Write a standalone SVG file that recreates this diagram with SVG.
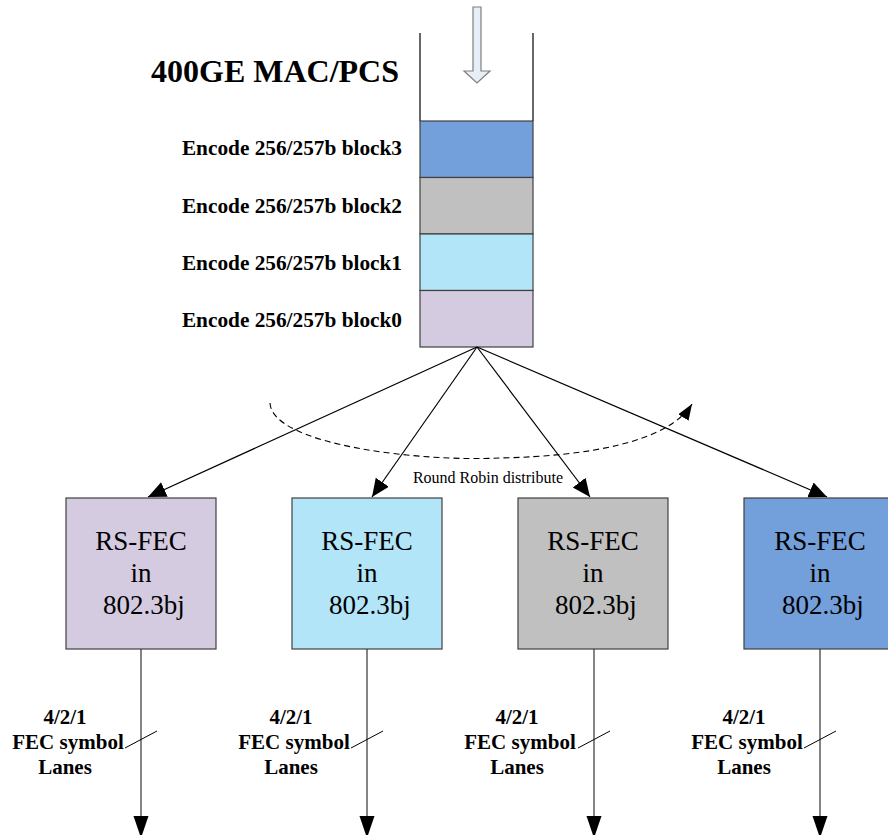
<svg xmlns="http://www.w3.org/2000/svg" width="888" height="835" viewBox="0 0 888 835">
<defs>
<style>
.blk{stroke:#404040;stroke-width:1.2}
.ln{stroke:#000;stroke-width:1.2;fill:none}
</style>
<marker id="ah" markerUnits="userSpaceOnUse" markerWidth="20" markerHeight="18" refX="18" refY="8" orient="auto" viewBox="0 0 20 16">
<path d="M0,0 L18,8 L0,16 Z" fill="#000"/>
</marker>
<marker id="ahd" markerUnits="userSpaceOnUse" markerWidth="22" markerHeight="16" refX="22" refY="7.5" orient="auto" viewBox="0 0 22 15">
<path d="M0,0 L22,7.5 L0,15 Z" fill="#000"/>
</marker>
<marker id="ahs" markerUnits="userSpaceOnUse" markerWidth="16" markerHeight="12" refX="16" refY="6" orient="auto" viewBox="0 0 16 12">
<path d="M0,0 L16,6 L0,12 Z" fill="#000"/>
</marker>
</defs>
<rect width="888" height="835" fill="#fff"/>

<g id="title" font-family="'Liberation Serif','Times New Roman',serif">
<text x="399" y="82" font-weight="bold" font-size="32" text-anchor="end">400GE MAC/PCS</text>
</g>

<g id="input-arrow">
<polygon points="473,7 481,7 481,71 490,71 477,83 464,71 473,71" fill="#e8eef8" stroke="#7f7f7f" stroke-width="1.2"/>
</g>

<g id="stack" font-family="'Liberation Serif','Times New Roman',serif" font-weight="bold" font-size="21.3" text-anchor="end">
<line x1="420" y1="33" x2="420" y2="121" stroke="#000" stroke-width="1.2"/>
<line x1="533" y1="33" x2="533" y2="121" stroke="#000" stroke-width="1.2"/>
<rect class="blk" x="420" y="121" width="113" height="56.5" fill="#739fda"/>
<rect class="blk" x="420" y="177.5" width="113" height="56.5" fill="#c0c0c0"/>
<rect class="blk" x="420" y="234" width="113" height="56.5" fill="#b3e5f8"/>
<rect class="blk" x="420" y="290.5" width="113" height="56.5" fill="#d4cbe0"/>
<text x="402" y="155">Encode 256/257b block3</text>
<text x="402" y="212.5">Encode 256/257b block2</text>
<text x="402" y="269.5">Encode 256/257b block1</text>
<text x="402" y="327">Encode 256/257b block0</text>
</g>

<g id="fec0" font-family="'Liberation Serif','Times New Roman',serif" font-size="27" text-anchor="middle">
<rect class="blk" x="66" y="498" width="150" height="151" fill="#d4cbe0"/>
<text x="141" y="550">RS-FEC</text>
<text x="141" y="582">in</text>
<text x="144" y="614">802.3bj</text>
</g>
<g id="fec1" font-family="'Liberation Serif','Times New Roman',serif" font-size="27" text-anchor="middle">
<rect class="blk" x="292" y="498" width="150" height="151" fill="#b3e5f8"/>
<text x="367" y="550">RS-FEC</text>
<text x="367" y="582">in</text>
<text x="370" y="614">802.3bj</text>
</g>
<g id="fec2" font-family="'Liberation Serif','Times New Roman',serif" font-size="27" text-anchor="middle">
<rect class="blk" x="518" y="498" width="150" height="151" fill="#c0c0c0"/>
<text x="593" y="550">RS-FEC</text>
<text x="593" y="582">in</text>
<text x="596" y="614">802.3bj</text>
</g>
<g id="fec3" font-family="'Liberation Serif','Times New Roman',serif" font-size="27" text-anchor="middle">
<rect class="blk" x="744" y="498" width="150" height="151" fill="#739fda"/>
<text x="820" y="550">RS-FEC</text>
<text x="820" y="582">in</text>
<text x="823" y="614">802.3bj</text>
</g>

<g id="connectors">
<line class="ln" x1="477" y1="347" x2="148" y2="497" marker-end="url(#ah)"/>
<line class="ln" x1="477" y1="347" x2="372" y2="497" marker-end="url(#ah)"/>
<line class="ln" x1="477" y1="347" x2="590" y2="497" marker-end="url(#ah)"/>
<line class="ln" x1="477" y1="347" x2="827" y2="497" marker-end="url(#ah)"/>
<path d="M270,403 C272,445 420,462 500,458 C590,456 668,442 692,404" fill="none" stroke="#000" stroke-width="1.1" stroke-dasharray="6 4" marker-end="url(#ahs)"/>
<line x1="141" y1="649" x2="141" y2="838" stroke="#333" stroke-width="1.2" marker-end="url(#ahd)"/>
<line x1="367" y1="649" x2="367" y2="838" stroke="#333" stroke-width="1.2" marker-end="url(#ahd)"/>
<line x1="594" y1="649" x2="594" y2="838" stroke="#333" stroke-width="1.2" marker-end="url(#ahd)"/>
<line x1="820" y1="649" x2="820" y2="838" stroke="#333" stroke-width="1.2" marker-end="url(#ahd)"/>
<line x1="125" y1="748" x2="157" y2="731" stroke="#000" stroke-width="1"/>
<line x1="351" y1="748" x2="383" y2="731" stroke="#000" stroke-width="1"/>
<line x1="578" y1="748" x2="610" y2="731" stroke="#000" stroke-width="1"/>
<line x1="804" y1="748" x2="836" y2="731" stroke="#000" stroke-width="1"/>
</g>

<g id="labels" font-family="'Liberation Serif','Times New Roman',serif" text-anchor="middle">
<text x="488" y="483" font-size="16">Round Robin distribute</text>
<g font-weight="bold" font-size="21">
<text x="65" y="724">4/2/1</text>
<text x="68" y="749">FEC symbol</text>
<text x="65" y="774">Lanes</text>
<text x="291" y="724">4/2/1</text>
<text x="294" y="749">FEC symbol</text>
<text x="291" y="774">Lanes</text>
<text x="517" y="724">4/2/1</text>
<text x="520" y="749">FEC symbol</text>
<text x="517" y="774">Lanes</text>
<text x="744" y="724">4/2/1</text>
<text x="747" y="749">FEC symbol</text>
<text x="744" y="774">Lanes</text>
</g>
</g>
</svg>
